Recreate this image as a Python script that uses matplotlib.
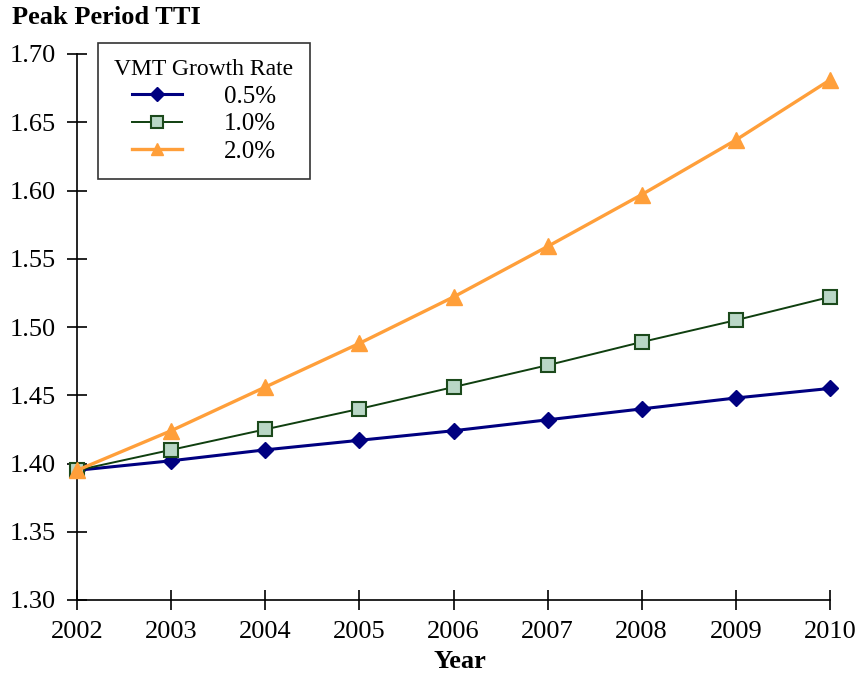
import matplotlib.pyplot as plt

plt.rcParams['font.family'] = ['Liberation Serif', 'DejaVu Serif']

# data
years = [2002, 2003, 2004, 2005, 2006, 2007, 2008, 2009, 2010]
tti_05 = [1.395, 1.402, 1.410, 1.417, 1.424, 1.432, 1.440, 1.448, 1.455]
tti_10 = [1.395, 1.410, 1.425, 1.440, 1.456, 1.472, 1.489, 1.505, 1.522]
tti_20 = [1.395, 1.424, 1.456, 1.488, 1.522, 1.559, 1.597, 1.637, 1.681]
labels = ['0.5%', '1.0%', '2.0%']
yticks = [1.30, 1.35, 1.40, 1.45, 1.50, 1.55, 1.60, 1.65, 1.70]

fig = plt.figure(figsize=(8.57, 6.73), dpi=100)
ax = fig.add_axes([77 / 857, 1 - 600 / 673, (830 - 77) / 857, (600 - 54) / 673])

ax.plot(years, tti_05, color='#000080', lw=2.2, marker='D', ms=8,
        mfc='#000080', mec='#000080', label=labels[0], clip_on=False, zorder=3)
ax.plot(years, tti_10, color='#0f3f0f', lw=1.4, marker='s', ms=10,
        mfc='#b9d7c6', mec='#1c4a1c', mew=1.5, label=labels[1], clip_on=False, zorder=4)
ax.plot(years, tti_20, color='#ff9f3a', lw=2.4, marker='^', ms=11,
        mfc='#ff9f3a', mec='#ff9f3a', label=labels[2], clip_on=False, zorder=5)

ax.set_xlim(2002, 2010)
ax.set_ylim(1.30, 1.70)
ax.set_xticks(years)
ax.set_yticks(yticks)
ax.set_yticklabels([f'{v:.2f}' for v in yticks])
ax.tick_params(direction='inout', length=14, width=1.2, labelsize=19)
ax.tick_params(axis='y', pad=8)
ax.tick_params(axis='x', pad=8)
for s in ['top', 'right']:
    ax.spines[s].set_visible(False)
for s in ['left', 'bottom']:
    ax.spines[s].set_linewidth(1.2)

fig.text(12 / 857, 1 - 18 / 673, 'Peak Period TTI', fontsize=19, fontweight='bold',
         ha='left', va='center')
fig.text(460 / 857, 1 - 662 / 673, 'Year', fontsize=19, fontweight='bold',
         ha='center', va='center')

leg = ax.legend(title='VMT Growth Rate', loc='upper left',
                bbox_to_anchor=(98 / 857, 1 - 43 / 673), bbox_transform=fig.transFigure,
                borderaxespad=0, fontsize=18, title_fontsize=17, frameon=True,
                fancybox=False, edgecolor='black', handlelength=2.0, labelspacing=0.2,
                borderpad=0.65, handletextpad=1.7, markerscale=0.85)
leg.get_frame().set_linewidth(1.2)

fig.savefig('out.png', dpi=100)
